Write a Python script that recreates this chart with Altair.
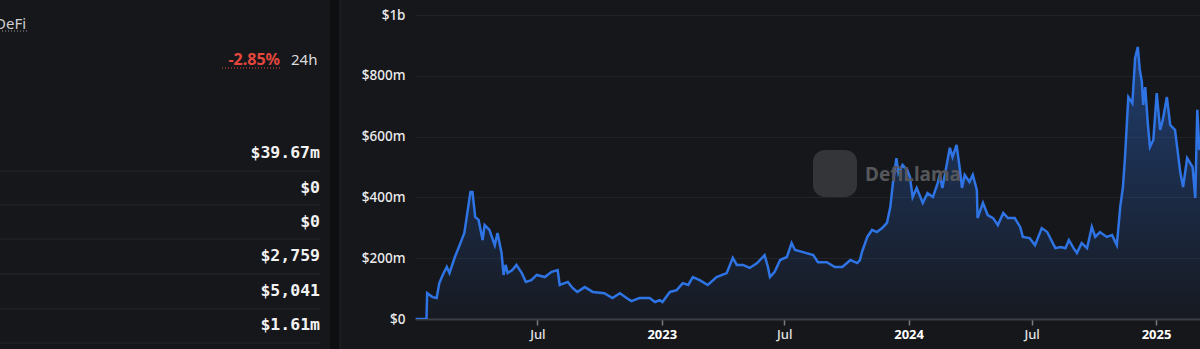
import altair as alt
import pandas as pd

# ---- data (TVL in $ millions) ----
dates = [
    "2022-01-02", "2022-01-18", "2022-01-19", "2022-01-27", "2022-02-02", "2022-02-06", "2022-02-11",
    "2022-02-17", "2022-02-21", "2022-03-01", "2022-03-08", "2022-03-15", "2022-03-24", "2022-03-27",
    "2022-03-31", "2022-04-05", "2022-04-11", "2022-04-14", "2022-04-21", "2022-04-29", "2022-05-03",
    "2022-05-09", "2022-05-12", "2022-05-15", "2022-05-18", "2022-05-25", "2022-05-31", "2022-06-08",
    "2022-06-14", "2022-06-22", "2022-06-30", "2022-07-12", "2022-07-22", "2022-07-31", "2022-08-03",
    "2022-08-15", "2022-08-22", "2022-08-29", "2022-09-09", "2022-09-21", "2022-10-08", "2022-10-20",
    "2022-10-31", "2022-11-10", "2022-11-17", "2022-11-29", "2022-12-14", "2022-12-22", "2022-12-29",
    "2023-01-02", "2023-01-13", "2023-01-23", "2023-02-01", "2023-02-09", "2023-02-16", "2023-02-26",
    "2023-03-10", "2023-03-23", "2023-04-07", "2023-04-16", "2023-04-22", "2023-05-01", "2023-05-11",
    "2023-05-22", "2023-06-02", "2023-06-07", "2023-06-10", "2023-06-17", "2023-06-25", "2023-07-05",
    "2023-07-12", "2023-07-17", "2023-07-29", "2023-08-13", "2023-08-20", "2023-09-02", "2023-09-14",
    "2023-09-25", "2023-10-07", "2023-10-17", "2023-10-21", "2023-10-24", "2023-11-01", "2023-11-08",
    "2023-11-15", "2023-11-23", "2023-11-30", "2023-12-05", "2023-12-09", "2023-12-14", "2023-12-17",
    "2023-12-23", "2023-12-30", "2024-01-03", "2024-01-07", "2024-01-13", "2024-01-22", "2024-01-29",
    "2024-02-06", "2024-02-13", "2024-02-16", "2024-02-20", "2024-03-02", "2024-03-06", "2024-03-12",
    "2024-03-17", "2024-03-20", "2024-03-24", "2024-03-31", "2024-04-05", "2024-04-11", "2024-04-12",
    "2024-04-20", "2024-04-27", "2024-05-05", "2024-05-12", "2024-05-20", "2024-05-27", "2024-06-06",
    "2024-06-14", "2024-06-18", "2024-06-28", "2024-07-06", "2024-07-16", "2024-07-24", "2024-08-05",
    "2024-08-13", "2024-08-20", "2024-08-25", "2024-09-01", "2024-09-06", "2024-09-13", "2024-09-21",
    "2024-09-28", "2024-10-03", "2024-10-10", "2024-10-20", "2024-10-28", "2024-11-04", "2024-11-09",
    "2024-11-13", "2024-11-16", "2024-11-21", "2024-11-27", "2024-12-01", "2024-12-05", "2024-12-08",
    "2024-12-11", "2024-12-13", "2024-12-16", "2024-12-20", "2024-12-23", "2024-12-28", "2025-01-02",
    "2025-01-07", "2025-01-11", "2025-01-17", "2025-01-22", "2025-01-29", "2025-02-06", "2025-02-10",
    "2025-02-16", "2025-02-24", "2025-02-28", "2025-03-03", "2025-03-06", "2025-03-10",
]
tvl_m = [
    0, 0, 85, 72, 69, 118, 145,
    171, 151, 204, 243, 283, 418, 418,
    336, 326, 260, 309, 293, 243, 283,
    217, 145, 178, 151, 161, 178, 151,
    122, 128, 145, 138, 155, 161, 112,
    122, 102, 89, 105, 89, 85, 69,
    85, 69, 59, 69, 69, 56, 62,
    56, 89, 95, 118, 112, 138, 128,
    112, 138, 151, 201, 178, 178, 168,
    184, 210, 171, 138, 155, 194, 204,
    250, 227, 220, 210, 187, 187, 171,
    171, 194, 184, 194, 220, 270, 293,
    286, 299, 316, 368, 450, 529, 480,
    507, 490, 467, 401, 431, 382, 414,
    401, 447, 474, 431, 563, 533, 573,
    490, 431, 474, 451, 474, 424, 332,
    382, 342, 332, 309, 349, 332, 332,
    303, 270, 266, 243, 299, 286, 233,
    237, 233, 260, 233, 217, 250, 233,
    303, 270, 286, 270, 276, 243, 368,
    434, 529, 730, 710, 858, 895, 819,
    780, 704, 763, 638, 566, 589, 743,
    622, 655, 730, 638, 622, 480, 434,
    529, 500, 398, 688, 556, 600,
]

y_ticks = [0, 200e6, 400e6, 600e6, 800e6, 1e9]
x_ticks = [(2022, 7), (2023, 1), (2023, 7), (2024, 1), (2024, 7), (2025, 1)]

panel_title = "DeFi"
change_text = "-2.85%"
change_period = "24h"
stat_values = ["$39.67m", "$0", "$0", "$2,759", "$5,041", "$1.61m"]
watermark = "DefiLlama"

df = pd.DataFrame({"date": dates, "tvl": [v * 1e6 for v in tvl_m]})

BG = "#16171b"
LINE = "#2f74e4"
W, H = 785, 304
PAD = {"left": 415, "top": 15, "right": 0, "bottom": 30}

x_enc = alt.X(
    "date:T",
    scale=alt.Scale(
        type="utc",
        domain=[alt.DateTime(year=2022, month=1, date=1, utc=True),
                alt.DateTime(year=2025, month=3, date=7, utc=True)],
    ),
    axis=alt.Axis(
        values=[alt.DateTime(year=y, month=m, date=1, utc=True) for y, m in x_ticks],
        labelExpr="utcmonth(datum.value) == 0 ? utcFormat(datum.value, '%Y') : utcFormat(datum.value, '%b')",
        labelFontWeight={"condition": {"test": "utcmonth(datum.value) == 0", "value": "bold"}, "value": 500},
        labelColor={"condition": {"test": "utcmonth(datum.value) == 0", "value": "#ffffff"}, "value": "#e4e4e4"},
        labelFont="Noto Sans",
        labelFontSize=13,
        labelPadding=3,
        grid=False,
        ticks=True,
        tickColor="#7a7b80",
        tickSize=6,
        tickWidth=1.5,
        domainColor="#3c3e43",
        domainWidth=2,
        title=None,
        labelFlush=False,
        labelOverlap=False,
    ),
)
y_enc = alt.Y(
    "tvl:Q",
    scale=alt.Scale(domain=[0, 1e9], nice=False),
    axis=alt.Axis(
        values=y_ticks,
        labelExpr="datum.value == 0 ? '$0' : (datum.value >= 1e9 ? '$' + datum.value / 1e9 + 'b' : '$' + datum.value / 1e6 + 'm')",
        labelFont="Noto Sans",
        labelFontSize=13.5,
        labelFontWeight=500,
        labelColor="#ececec",
        labelPadding=10,
        grid=True,
        gridColor="#222328",
        gridWidth=1,
        ticks=False,
        domain=False,
        title=None,
    ),
)

gradient = alt.Gradient(
    gradient="linear",
    stops=[alt.GradientStop(color="rgba(47,116,228,0.42)", offset=0),
           alt.GradientStop(color="rgba(47,116,228,0.03)", offset=1)],
    x1=1, x2=1, y1=0, y2=1,
)

one = alt.Data(values=[{}])


def txt(text, x, y, align="left", color="#e6e6e6", size=15, weight="normal", font="Noto Sans"):
    return alt.Chart(one).mark_text(
        text=text, align=align, baseline="middle", color=color, fontSize=size,
        fontWeight=weight, font=font,
    ).encode(x=alt.value(x), y=alt.value(y))


def hrule(x1, x2, y, color, width=1, dash=None):
    kw = dict(color=color, strokeWidth=width)
    if dash:
        kw["strokeDash"] = dash
    return alt.Chart(one).mark_rule(**kw).encode(x=alt.value(x1), x2=alt.value(x2), y=alt.value(y))


layers = []
# separator stripe between the panels
layers.append(alt.Chart(one).mark_rect(color="#0e0f11").encode(
    x=alt.value(-85), x2=alt.value(-75), y=alt.value(-15), y2=alt.value(334)))
layers.append(alt.Chart(one).mark_rule(color="#24252a", strokeWidth=1).encode(
    x=alt.value(-75), y=alt.value(-15), y2=alt.value(334)))

# left panel
layers.append(txt(panel_title, -420, 9, color="#d0d0d0", size=15))
layers.append(hrule(-416, -388, 16, "#9a9a9a", 1, [1, 2]))
layers.append(txt(change_text, -135, 45, align="right", color="#e5473d", size=16, weight="bold"))
layers.append(hrule(-193, -135, 53, "#e5473d", 1, [1, 2]))
layers.append(txt(change_period, -124, 45, color="#dcdcdc", size=15))
row_y = [138, 173, 207, 241, 276, 310]
sep_y = [156, 190, 224, 259, 294, 328]
for v, yy in zip(stat_values, row_y):
    layers.append(txt(v, -95, yy, align="right", color="#f2f2f2", size=16.5, weight="bold",
                      font="DejaVu Sans Mono"))
for yy in sep_y:
    layers.append(hrule(-415, -95, yy, "#26272c", 1))

# watermark
layers.append(alt.Chart(one).mark_rect(color="#3a3b3e", cornerRadius=12, opacity=0.85).encode(
    x=alt.value(398), x2=alt.value(442), y=alt.value(135), y2=alt.value(182)))
layers.append(txt(watermark, 450, 160, color="#55575b", size=19, weight="bold"))

base = alt.Chart(df).encode(x=x_enc, y=y_enc)
area = base.mark_area(color=gradient, clip=True, interpolate="linear")
line = base.mark_line(color=LINE, strokeWidth=2.5, clip=True, interpolate="linear")

chart = alt.layer(area, line, *layers).properties(
    width=W, height=H,
    autosize=alt.AutoSizeParams(type="none"),
    padding=PAD,
    background=BG,
).configure_view(stroke=None)

chart.save("out.html", embed_options={"renderer": "svg", "actions": False})
